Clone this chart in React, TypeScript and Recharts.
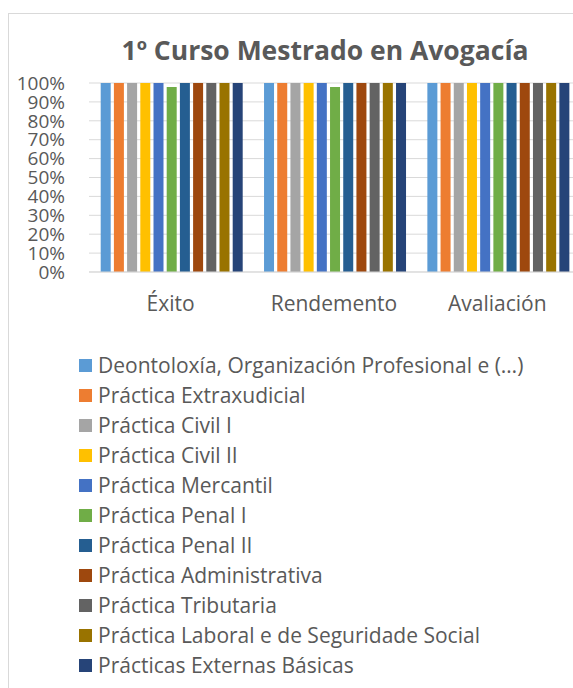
import React from "react";
import { BarChart, Bar, XAxis, YAxis, CartesianGrid, Legend } from "recharts";

const categories = ["Éxito", "Rendemento", "Avaliación"];

const seriesNames = [
  "Deontoloxía, Organización Profesional e (…)",
  "Práctica Extraxudicial",
  "Práctica Civil I",
  "Práctica Civil II",
  "Práctica Mercantil",
  "Práctica Penal I",
  "Práctica Penal II",
  "Práctica Administrativa",
  "Práctica Tributaria",
  "Práctica Laboral e de Seguridade Social",
  "Prácticas Externas Básicas",
];

const seriesColors = [
  "#5B9BD5",
  "#ED7D31",
  "#A5A5A5",
  "#FFC000",
  "#4472C4",
  "#70AD47",
  "#255E91",
  "#9E480E",
  "#636363",
  "#997300",
  "#264478",
];

// values in % for [Éxito, Rendemento, Avaliación]
const deontoloxia = [100, 100, 100];
const extraxudicial = [100, 100, 100];
const civilI = [100, 100, 100];
const civilII = [100, 100, 100];
const mercantil = [100, 100, 100];
const penalI = [97.9, 97.9, 100];
const penalII = [100, 100, 100];
const administrativa = [100, 100, 100];
const tributaria = [100, 100, 100];
const laboral = [100, 100, 100];
const externas = [100, 100, 100];

const seriesValues = [
  deontoloxia,
  extraxudicial,
  civilI,
  civilII,
  mercantil,
  penalI,
  penalII,
  administrativa,
  tributaria,
  laboral,
  externas,
];

const yTicks = [0, 10, 20, 30, 40, 50, 60, 70, 80, 90, 100];

const data = categories.map((c, ci) => {
  const row: Record<string, string | number> = { category: c };
  seriesNames.forEach((n, si) => {
    row["s" + si] = seriesValues[si][ci];
  });
  return row;
});

const FONT = "'Open Sans', sans-serif";
const TEXT = "#595959";

const renderLegend = () => (
  <div style={{ fontFamily: FONT }}>
    {seriesNames.map((n, i) => (
      <div
        key={n}
        style={{
          display: "flex",
          alignItems: "center",
          height: 30,
          fontSize: 21,
          color: TEXT,
          whiteSpace: "nowrap",
        }}
      >
        <span
          style={{
            display: "inline-block",
            width: 13,
            height: 13,
            background: seriesColors[i],
            marginRight: 6,
            flex: "none",
          }}
        />
        <span>{n}</span>
      </div>
    ))}
  </div>
);

export default function App() {
  return (
    <>
      <style>{`html,body{margin:0;padding:0;overflow:hidden;background:#fff;}`}</style>
      <div
        style={{
          position: "fixed",
          left: 8,
          top: 13,
          width: 565,
          height: 675,
          borderLeft: "1px solid #d9d9d9",
          borderTop: "1px solid #d9d9d9",
          overflow: "hidden",
          background: "#fff",
        }}
      >
        <div
          style={{
            position: "absolute",
            left: 0,
            width: 632,
            top: 18,
            textAlign: "center",
            fontFamily: FONT,
            fontWeight: 700,
            fontSize: 26.5,
            color: TEXT,
            whiteSpace: "nowrap",
          }}
        >
          1º Curso Mestrado en Avogacía
        </div>
        <BarChart
          width={570}
          height={674}
          data={data}
          margin={{ top: 69, right: 0, left: 0, bottom: 386 }}
          barCategoryGap={11.7}
          barGap={3.2}
        >
          <CartesianGrid vertical={false} stroke="#d9d9d9" strokeWidth={1} />
          <XAxis
            dataKey="category"
            axisLine={{ stroke: "#d9d9d9" }}
            tickLine={false}
            tickSize={0}
            tickMargin={24}
            height={30}
            tick={{ fill: TEXT, fontSize: 21, fontFamily: FONT }}
          />
          <YAxis
            domain={[0, 100]}
            ticks={yTicks}
            interval={0}
            width={80}
            axisLine={false}
            tickLine={false}
            tickSize={0}
            tickMargin={24}
            tickFormatter={(v: number) => `${v}%`}
            tick={{ fill: TEXT, fontSize: 19, fontFamily: FONT }}
          />
          <Legend
            layout="vertical"
            align="center"
            verticalAlign="middle"
            content={renderLegend}
            wrapperStyle={{ left: 70, top: 336, width: 500 }}
          />
          {seriesNames.map((n, i) => (
            <Bar
              key={n}
              dataKey={"s" + i}
              name={n}
              fill={seriesColors[i]}
              isAnimationActive={false}
            />
          ))}
        </BarChart>
      </div>
    </>
  );
}
